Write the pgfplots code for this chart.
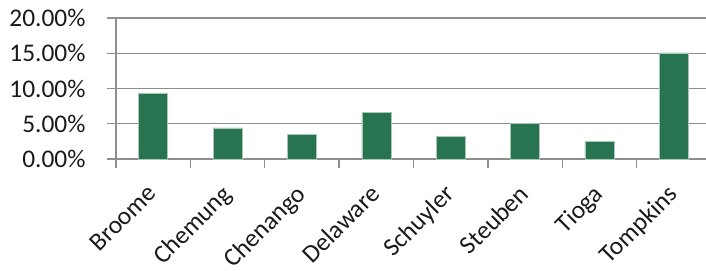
\documentclass[border=0pt]{standalone}
\usepackage{pgfplots}
\pgfplotsset{compat=1.18}
\usepackage{fontspec}
\setmainfont{Carlito}
\definecolor{barg}{HTML}{287350}
\definecolor{gridg}{HTML}{8E8E8E}
\definecolor{txt}{HTML}{1A1A1A}
\begin{document}
\begin{tikzpicture}
\begin{axis}[
  scale only axis,
  width=590bp, height=141bp,
  xmin=-0.5, xmax=7.433,
  ymin=0, ymax=20,
  axis x line=bottom, axis y line=left,
  axis line style={draw=gridg, line width=1.3bp, -},
  ytick={0,5,10,15,20},
  ymajorgrids,
  grid style={draw=gridg, line width=1.3bp},
  yticklabel={\pgfmathprintnumber[fixed,fixed zerofill,precision=2]{\tick}\%},
  /pgf/number format/assume math mode=true,
  ytick style={draw=gridg, line width=1.3bp},
  ytick align=outside,
  major tick length=9bp,
  xtick={0,...,7},
  xticklabels={Broome,Chemung,Chenango,Delaware,Schuyler,Steuben,Tioga,Tompkins},
  xtick style={draw=none},
  xtick align=outside,
  extra x ticks={-0.5,0.5,1.5,2.5,3.5,4.5,5.5,6.5},
  extra x tick labels={},
  extra x tick style={xtick style={draw=gridg, line width=1.3bp}, major tick length=9bp, grid=none},
  ticklabel style={font=\fontsize{25.5}{30}\selectfont, text=txt},
  xticklabel style={rotate=45, anchor=north east, inner sep=2bp, xshift=-13.7bp, yshift=-3.4bp},
  yticklabel style={xshift=-18bp},
  clip=false,
]
\addplot[ybar, bar width=29bp, fill=barg, draw=barg!40!white, line width=0.6bp] coordinates {
  (0,9.36) (1,4.40) (2,3.50) (3,6.57) (4,3.26) (5,5.06) (6,2.50) (7,15.04)
};
\coordinate (ll) at (rel axis cs:0,0);
\end{axis}
\pgfresetboundingbox
\path (ll) ++(-116bp,-112bp) rectangle ++(706bp,271bp);
\end{tikzpicture}
\end{document}
